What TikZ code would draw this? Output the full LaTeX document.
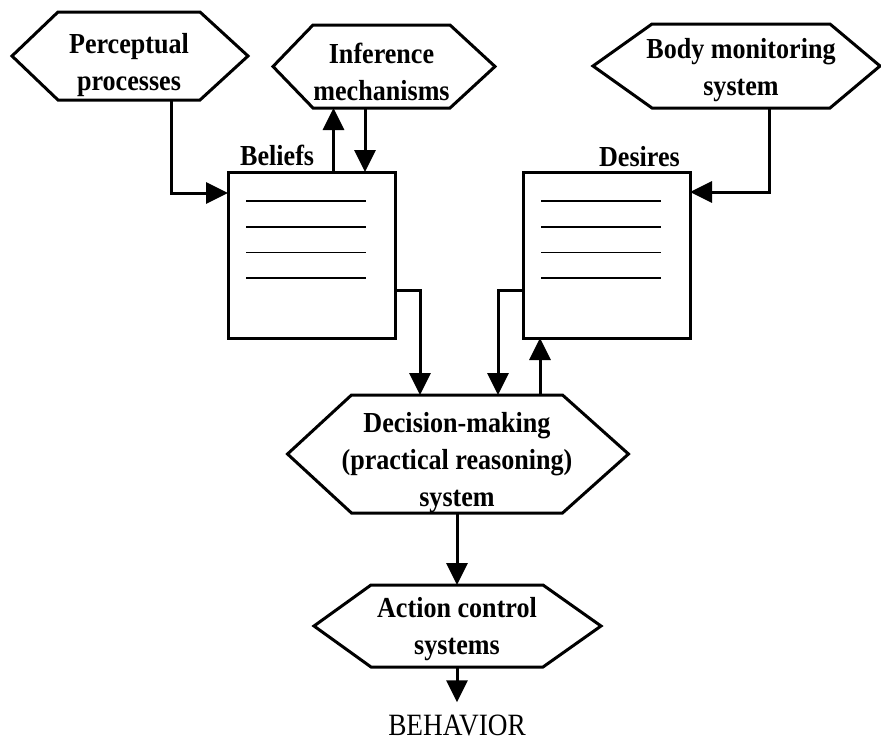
\documentclass[tikz,border=0pt]{standalone}
\usepackage{fontspec}
\setmainfont{Liberation Serif}
\newfontfamily\hexfont{Liberation Serif}[FakeStretch=0.9]
\newfontfamily\behfont{Liberation Serif}[FakeStretch=0.88]
\usetikzlibrary{calc,positioning,arrows.meta}

\newcommand{\hexframe}[3]{%
  \draw[frame] (#1.north west) -- (#1.north east) -- ([xshift=#3]#1.east)
    -- (#1.south east) -- (#1.south west) -- ([xshift=-#2]#1.west) -- cycle;}

\begin{document}
\begin{tikzpicture}[x=1pt,y=-1pt]
\tikzset{frame/.style = {line width=3pt},
  hexbox/.style = {inner sep=0pt, outer sep=0pt},
  hextext/.style = {inner sep=0pt, align=center, font=\hexfont\bfseries\fontsize{29}{37}\selectfont},
  listbox/.style = {draw, line width=3pt, minimum width=167pt, minimum height=166pt, inner sep=0pt, outer sep=0pt},
  boxlabel/.style = {inner sep=0pt, font=\hexfont\bfseries\fontsize{29}{32}\selectfont},
  rule/.style = {line width=1.6pt},
  arr/.style = {line width=3pt, -{Triangle[length=22pt,width=21pt]}}}
\useasboundingbox (0,0) rectangle (881,742);

\node[hexbox, minimum width=142pt, minimum height=88pt] (perc) at (129,56) {};
\node[hextext] (perctext) at ([yshift=-9pt]perc.center) {Perceptual\\processes};
\hexframe{perc}{46pt}{48pt}
\node[hexbox, minimum width=137pt, minimum height=83pt] (inf) at (381.5,66.5) {};
\node[hextext] (inftext) at ([yshift=-5pt]inf.center) {Inference\\mechanisms};
\hexframe{inf}{40pt}{45pt}
\node[hexbox, minimum width=178pt, minimum height=84pt] (body) at (741,66) {};
\node[hextext] (bodytext) at ([yshift=-4pt]body.center) {Body monitoring\\system};
\hexframe{body}{59pt}{50pt}

\node[listbox] (bel) at (311.5,255) {};
\node[listbox] (des) at (606.5,255) {};
\foreach \b in {bel,des}
  \foreach \k in {0,...,3}
    \draw[rule] ($(\b.north west)+(18,{29+25.7*\k})$) -- ++(120,0);
\node[boxlabel, anchor=base west] (bellab) at ($(bel.north west)+(12,-7)$) {Beliefs};
\node[boxlabel, anchor=base east] (deslab) at ($(des.north east)+(-10,-6)$) {Desires};

\node[hexbox, minimum width=211pt, minimum height=118pt] (dec) at (457,454) {};
\node[hextext] (dectext) at ([yshift=-9pt]dec.center) {Decision-making\\(practical reasoning)\\system};
\hexframe{dec}{64pt}{66pt}
\node[hexbox, minimum width=172pt, minimum height=82pt] (act) at (457,626) {};
\node[hextext] (acttext) at ([yshift=-3pt]act.center) {Action control\\systems};
\hexframe{act}{57pt}{58pt}
\node[inner sep=0pt, font=\behfont\fontsize{31}{34}\selectfont, anchor=base] (beh) at (457,735) {BEHAVIOR};

\coordinate (bu) at ([xshift=22pt]bel.north);
\coordinate (bd) at ([xshift=53.5pt]bel.north);
\coordinate (dl) at ([xshift=-37pt]dec.north);
\coordinate (dm) at ([xshift=41pt]dec.north);
\coordinate (du) at ([xshift=83pt]dec.north);

\draw[arr] ([xshift=42pt]perc.south) |- ([yshift=-21pt]bel.north west);
\draw[arr] (bu) -- (bu |- inf.south);
\draw[arr] (bd |- inf.south) -- (bd);
\draw[arr] ([xshift=28pt]body.south) |- ([yshift=-20pt]des.north east);
\draw[arr] ([yshift=48pt]bel.south east) -| (dl);
\draw[arr] ([yshift=48pt]des.south west) -| (dm);
\draw[arr] (du) -- (du |- des.south);
\draw[arr] (dec.south) -- (act.north);
\draw[arr] (act.south) -- ([yshift=12pt]beh.north);
\end{tikzpicture}
\end{document}
